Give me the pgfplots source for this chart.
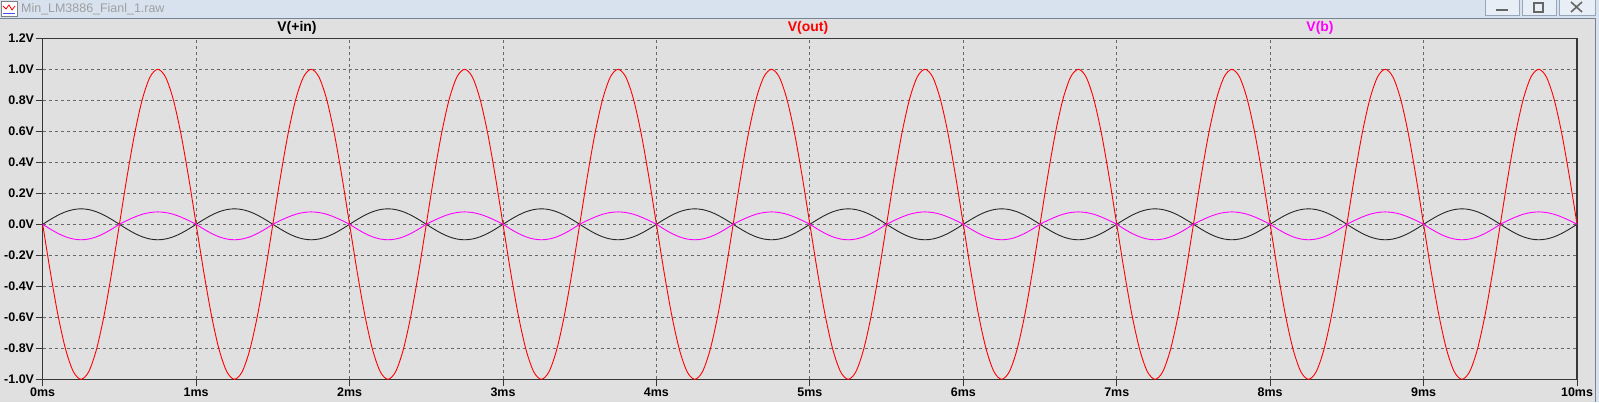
\documentclass[border=0pt]{standalone}
\usepackage{pgfplots}
\pgfplotsset{compat=1.18}
\usepackage{pgfplotstable}
\usepackage{fontspec}
\setmainfont{Liberation Sans}
\definecolor{bg}{RGB}{224,224,224}
\definecolor{titlebg}{RGB}{216,226,238}
\definecolor{gridc}{RGB}{105,105,105}
\definecolor{axc}{RGB}{55,55,55}
\definecolor{btnb}{RGB}{150,165,185}
\definecolor{mag}{RGB}{255,0,255}

\pgfplotstableread{
t in out b
0.00 0 0 0
0.05 0.031 -0.309 -0.031
0.10 0.059 -0.588 -0.059
0.15 0.081 -0.809 -0.081
0.20 0.095 -0.951 -0.095
0.25 0.1 -1 -0.1
0.30 0.095 -0.951 -0.095
0.35 0.081 -0.809 -0.081
0.40 0.059 -0.588 -0.059
0.45 0.031 -0.309 -0.031
0.50 0 0 0
0.55 -0.031 0.309 0.025
0.60 -0.059 0.588 0.047
0.65 -0.081 0.809 0.065
0.70 -0.095 0.951 0.076
0.75 -0.1 1 0.08
0.80 -0.095 0.951 0.076
0.85 -0.081 0.809 0.065
0.90 -0.059 0.588 0.047
0.95 -0.031 0.309 0.025
1.00 0 0 0
1.05 0.031 -0.309 -0.031
1.10 0.059 -0.588 -0.059
1.15 0.081 -0.809 -0.081
1.20 0.095 -0.951 -0.095
1.25 0.1 -1 -0.1
1.30 0.095 -0.951 -0.095
1.35 0.081 -0.809 -0.081
1.40 0.059 -0.588 -0.059
1.45 0.031 -0.309 -0.031
1.50 0 0 0
1.55 -0.031 0.309 0.025
1.60 -0.059 0.588 0.047
1.65 -0.081 0.809 0.065
1.70 -0.095 0.951 0.076
1.75 -0.1 1 0.08
1.80 -0.095 0.951 0.076
1.85 -0.081 0.809 0.065
1.90 -0.059 0.588 0.047
1.95 -0.031 0.309 0.025
2.00 0 0 0
2.05 0.031 -0.309 -0.031
2.10 0.059 -0.588 -0.059
2.15 0.081 -0.809 -0.081
2.20 0.095 -0.951 -0.095
2.25 0.1 -1 -0.1
2.30 0.095 -0.951 -0.095
2.35 0.081 -0.809 -0.081
2.40 0.059 -0.588 -0.059
2.45 0.031 -0.309 -0.031
2.50 0 0 0
2.55 -0.031 0.309 0.025
2.60 -0.059 0.588 0.047
2.65 -0.081 0.809 0.065
2.70 -0.095 0.951 0.076
2.75 -0.1 1 0.08
2.80 -0.095 0.951 0.076
2.85 -0.081 0.809 0.065
2.90 -0.059 0.588 0.047
2.95 -0.031 0.309 0.025
3.00 0 0 0
3.05 0.031 -0.309 -0.031
3.10 0.059 -0.588 -0.059
3.15 0.081 -0.809 -0.081
3.20 0.095 -0.951 -0.095
3.25 0.1 -1 -0.1
3.30 0.095 -0.951 -0.095
3.35 0.081 -0.809 -0.081
3.40 0.059 -0.588 -0.059
3.45 0.031 -0.309 -0.031
3.50 0 0 0
3.55 -0.031 0.309 0.025
3.60 -0.059 0.588 0.047
3.65 -0.081 0.809 0.065
3.70 -0.095 0.951 0.076
3.75 -0.1 1 0.08
3.80 -0.095 0.951 0.076
3.85 -0.081 0.809 0.065
3.90 -0.059 0.588 0.047
3.95 -0.031 0.309 0.025
4.00 0 0 0
4.05 0.031 -0.309 -0.031
4.10 0.059 -0.588 -0.059
4.15 0.081 -0.809 -0.081
4.20 0.095 -0.951 -0.095
4.25 0.1 -1 -0.1
4.30 0.095 -0.951 -0.095
4.35 0.081 -0.809 -0.081
4.40 0.059 -0.588 -0.059
4.45 0.031 -0.309 -0.031
4.50 0 0 0
4.55 -0.031 0.309 0.025
4.60 -0.059 0.588 0.047
4.65 -0.081 0.809 0.065
4.70 -0.095 0.951 0.076
4.75 -0.1 1 0.08
4.80 -0.095 0.951 0.076
4.85 -0.081 0.809 0.065
4.90 -0.059 0.588 0.047
4.95 -0.031 0.309 0.025
5.00 0 0 0
5.05 0.031 -0.309 -0.031
5.10 0.059 -0.588 -0.059
5.15 0.081 -0.809 -0.081
5.20 0.095 -0.951 -0.095
5.25 0.1 -1 -0.1
5.30 0.095 -0.951 -0.095
5.35 0.081 -0.809 -0.081
5.40 0.059 -0.588 -0.059
5.45 0.031 -0.309 -0.031
5.50 0 0 0
5.55 -0.031 0.309 0.025
5.60 -0.059 0.588 0.047
5.65 -0.081 0.809 0.065
5.70 -0.095 0.951 0.076
5.75 -0.1 1 0.08
5.80 -0.095 0.951 0.076
5.85 -0.081 0.809 0.065
5.90 -0.059 0.588 0.047
5.95 -0.031 0.309 0.025
6.00 0 0 0
6.05 0.031 -0.309 -0.031
6.10 0.059 -0.588 -0.059
6.15 0.081 -0.809 -0.081
6.20 0.095 -0.951 -0.095
6.25 0.1 -1 -0.1
6.30 0.095 -0.951 -0.095
6.35 0.081 -0.809 -0.081
6.40 0.059 -0.588 -0.059
6.45 0.031 -0.309 -0.031
6.50 0 0 0
6.55 -0.031 0.309 0.025
6.60 -0.059 0.588 0.047
6.65 -0.081 0.809 0.065
6.70 -0.095 0.951 0.076
6.75 -0.1 1 0.08
6.80 -0.095 0.951 0.076
6.85 -0.081 0.809 0.065
6.90 -0.059 0.588 0.047
6.95 -0.031 0.309 0.025
7.00 0 0 0
7.05 0.031 -0.309 -0.031
7.10 0.059 -0.588 -0.059
7.15 0.081 -0.809 -0.081
7.20 0.095 -0.951 -0.095
7.25 0.1 -1 -0.1
7.30 0.095 -0.951 -0.095
7.35 0.081 -0.809 -0.081
7.40 0.059 -0.588 -0.059
7.45 0.031 -0.309 -0.031
7.50 0 0 0
7.55 -0.031 0.309 0.025
7.60 -0.059 0.588 0.047
7.65 -0.081 0.809 0.065
7.70 -0.095 0.951 0.076
7.75 -0.1 1 0.08
7.80 -0.095 0.951 0.076
7.85 -0.081 0.809 0.065
7.90 -0.059 0.588 0.047
7.95 -0.031 0.309 0.025
8.00 0 0 0
8.05 0.031 -0.309 -0.031
8.10 0.059 -0.588 -0.059
8.15 0.081 -0.809 -0.081
8.20 0.095 -0.951 -0.095
8.25 0.1 -1 -0.1
8.30 0.095 -0.951 -0.095
8.35 0.081 -0.809 -0.081
8.40 0.059 -0.588 -0.059
8.45 0.031 -0.309 -0.031
8.50 0 0 0
8.55 -0.031 0.309 0.025
8.60 -0.059 0.588 0.047
8.65 -0.081 0.809 0.065
8.70 -0.095 0.951 0.076
8.75 -0.1 1 0.08
8.80 -0.095 0.951 0.076
8.85 -0.081 0.809 0.065
8.90 -0.059 0.588 0.047
8.95 -0.031 0.309 0.025
9.00 0 0 0
9.05 0.031 -0.309 -0.031
9.10 0.059 -0.588 -0.059
9.15 0.081 -0.809 -0.081
9.20 0.095 -0.951 -0.095
9.25 0.1 -1 -0.1
9.30 0.095 -0.951 -0.095
9.35 0.081 -0.809 -0.081
9.40 0.059 -0.588 -0.059
9.45 0.031 -0.309 -0.031
9.50 0 0 0
9.55 -0.031 0.309 0.025
9.60 -0.059 0.588 0.047
9.65 -0.081 0.809 0.065
9.70 -0.095 0.951 0.076
9.75 -0.1 1 0.08
9.80 -0.095 0.951 0.076
9.85 -0.081 0.809 0.065
9.90 -0.059 0.588 0.047
9.95 -0.031 0.309 0.025
10.00 0 0 0
}\wave

\begin{document}
\begin{tikzpicture}[x=1bp,y=1bp]
\useasboundingbox (0,0) rectangle (1599,402);
\fill[bg] (0,0) rectangle (1599,402);
% window title bar
\fill[titlebg] (0,384) rectangle (1599,402);
\fill[titlebg] (1595,0) rectangle (1599,384);
\draw[btnb!80!black, line width=1bp] (0,383.5) -- (1595,383.5) -- (1595,0);
% icon
\fill[white] (1,386) rectangle (17,401);
\draw[gray, line width=0.6bp] (1,386) rectangle (17,401);
\draw[red, line width=0.8bp] (3,396) -- (6,393) -- (9,397) -- (12,392) -- (15,396);
\draw[blue!70, line width=0.8bp] (3,389) -- (15,389);
\node[anchor=west, text=gray!75, inner sep=0pt, font=\fontsize{12.5}{14}\selectfont] at (21,393) {Min\_LM3886\_Fianl\_1.raw};
% buttons
\foreach \xa/\xb in {1485/1519, 1522/1556, 1559/1595} {
  \fill[titlebg!60!white] (\xa,387) rectangle (\xb,402);
  \draw[btnb, line width=0.8bp] (\xa,387) rectangle (\xb,402.5);
}
\draw[gray!80!black, line width=2bp] (1496,392) -- (1508,392);
\draw[gray!80!black, line width=1.2bp] (1534,390) rectangle (1543,399);
\draw[gray!80!black, line width=1.6bp] (1571,390) -- (1582,400) (1571,400) -- (1582,390);
% trace labels
\node[font=\bfseries\fontsize{14}{16}\selectfont, text=black] at (297,374) {V(+in)};
\node[font=\bfseries\fontsize{14}{16}\selectfont, text=red] at (808,374) {V(out)};
\node[font=\bfseries\fontsize{14}{16}\selectfont, text=mag] at (1320,374) {V(b)};
\begin{axis}[
  at={(42.7bp,22.7bp)}, anchor=south west,
  scale only axis, width=1534.3bp, height=341bp,
  xmin=0, xmax=10, ymin=-1, ymax=1.2,
  axis background/.style={fill=bg},
  xtick={0,1,2,3,4,5,6,7,8,9,10},
  xticklabels={0ms,1ms,2ms,3ms,4ms,5ms,6ms,7ms,8ms,9ms,10ms},
  ytick={-1,-0.8,-0.6,-0.4,-0.2,0,0.2,0.4,0.6,0.8,1,1.2},
  yticklabels={-1.0V,-0.8V,-0.6V,-0.4V,-0.2V,0.0V,0.2V,0.4V,0.6V,0.8V,1.0V,1.2V},
  tick pos=left, tick align=outside, major tick length=7bp,
  grid=major,
  major grid style={gridc, dash pattern=on 3bp off 3bp, line width=0.8bp},
  axis line style={axc, line width=1.2bp},
  tick style={axc, line width=1bp},
  ticklabel style={font=\bfseries\fontsize{12.5}{14}\selectfont, inner sep=1.5bp},
]
\addplot[black!85, line width=0.9bp, smooth] table[x=t, y=in] {\wave};
\addplot[red, line width=0.9bp, smooth] table[x=t, y=out] {\wave};
\addplot[mag, line width=0.9bp, smooth] table[x=t, y=b] {\wave};
\end{axis}
\end{tikzpicture}
\end{document}
